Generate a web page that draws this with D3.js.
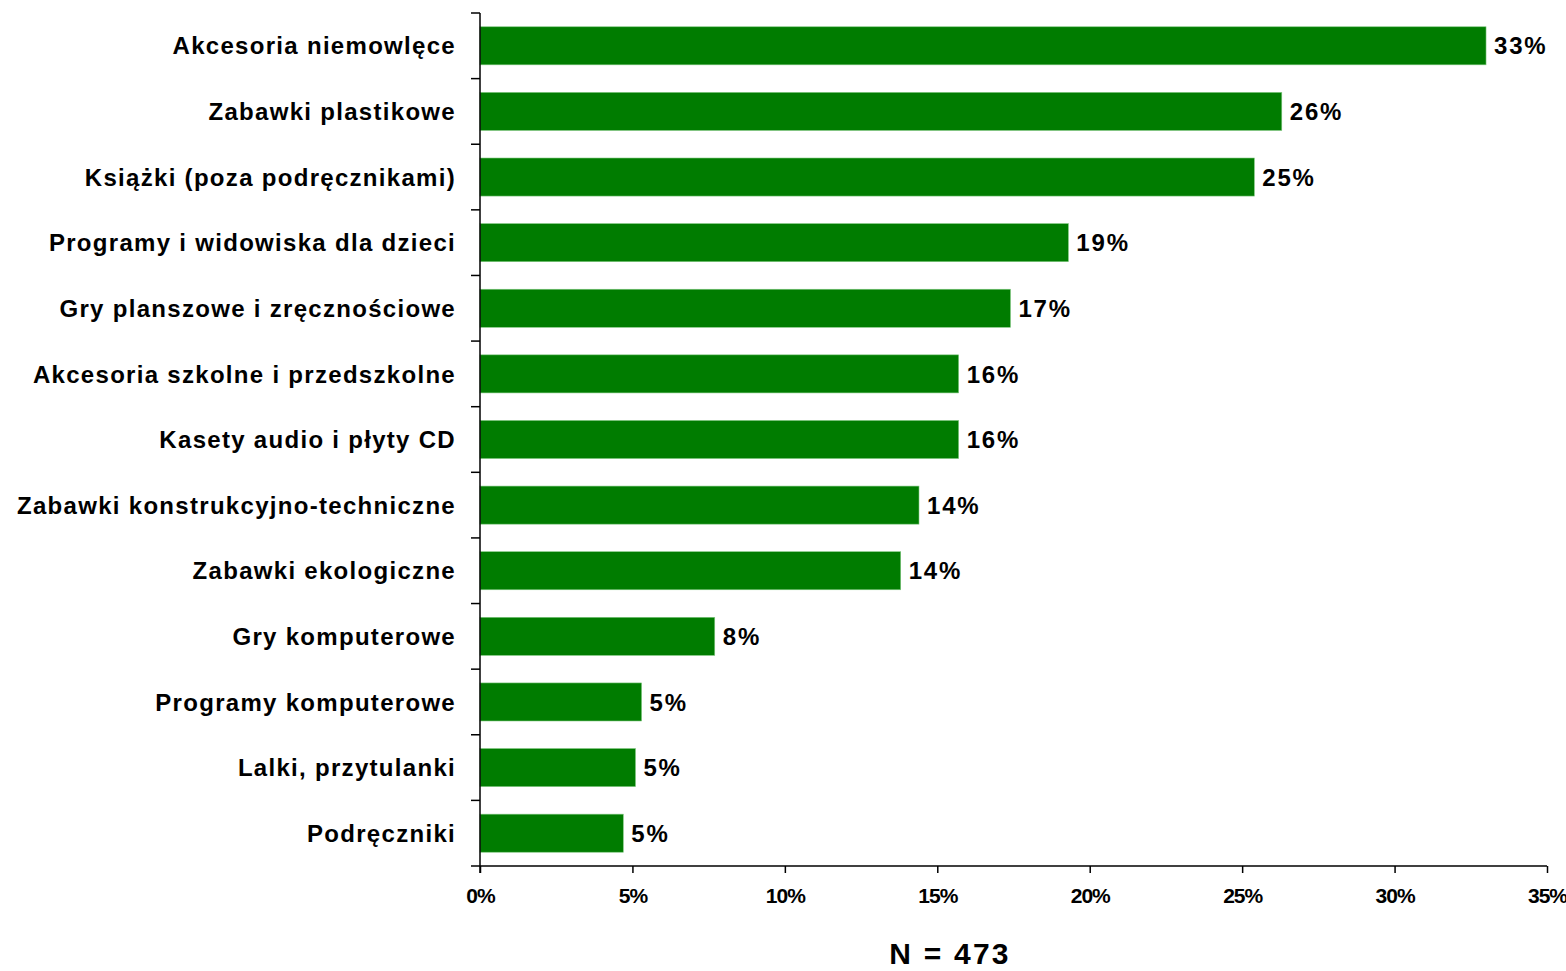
<!DOCTYPE html>
<html>
<head>
<meta charset="utf-8">
<script src="https://cdn.jsdelivr.net/npm/d3@7"></script>
<style>
  html, body { margin: 0; padding: 0; background: #fff; }
  svg { display: block; }
  .cat { font-family: "Liberation Sans", Arial, sans-serif; font-weight: bold; font-size: 24px; letter-spacing: 1.3px; fill: #000; }
  .val { font-family: "Liberation Sans", Arial, sans-serif; font-weight: bold; font-size: 24px; letter-spacing: 1.8px; fill: #000; }
  .tick text { font-family: "Liberation Sans", Arial, sans-serif; font-weight: bold; font-size: 21px; letter-spacing: -1px; fill: #000; }
  .note { font-family: "Liberation Sans", Arial, sans-serif; font-weight: bold; font-size: 30px; letter-spacing: 2.2px; fill: #000; }
</style>
</head>
<body>
<svg id="chart" width="1566" height="971"></svg>
<script>
// Categories, top to bottom
const categories = [
  "Akcesoria niemowlęce",
  "Zabawki plastikowe",
  "Książki (poza podręcznikami)",
  "Programy i widowiska dla dzieci",
  "Gry planszowe i zręcznościowe",
  "Akcesoria szkolne i przedszkolne",
  "Kasety audio i płyty CD",
  "Zabawki konstrukcyjno-techniczne",
  "Zabawki ekologiczne",
  "Gry komputerowe",
  "Programy komputerowe",
  "Lalki, przytulanki",
  "Podręczniki"
];

// Share of respondents (%)
const values = [33.0, 26.3, 25.4, 19.3, 17.4, 15.7, 15.7, 14.4, 13.8, 7.7, 5.3, 5.1, 4.7];

// X axis ticks (%)
const xTicks = [0, 5, 10, 15, 20, 25, 30, 35];

const sampleNote = "N = 473";

const svg = d3.select("#chart");
const margin = { left: 480, right: 19, top: 13, bottom: 105 };
const W = 1566, H = 971;

const x = d3.scaleLinear()
  .domain([0, 35])
  .range([margin.left, W - margin.right]);

const y = d3.scaleBand()
  .domain(categories)
  .range([margin.top, H - margin.bottom])
  .paddingInner(0.42)
  .paddingOuter(0.21);

const data = categories.map((c, i) => ({ cat: c, v: values[i] }));

// Bars
svg.append("g")
  .selectAll("rect")
  .data(data)
  .join("rect")
  .attr("x", x(0))
  .attr("y", d => y(d.cat))
  .attr("width", d => x(d.v) - x(0))
  .attr("height", y.bandwidth())
  .attr("fill", "#007c00")
  .attr("stroke", "#7fc77f")
  .attr("stroke-width", 0.6);

// Value labels, rounded to whole percent
svg.append("g")
  .selectAll("text")
  .data(data)
  .join("text")
  .attr("class", "val")
  .attr("x", d => x(d.v) + 8)
  .attr("y", d => y(d.cat) + y.bandwidth() / 2)
  .attr("dy", "0.36em")
  .text(d => Math.round(d.v) + "%");

// Y axis line with boundary ticks between categories
const yAxisG = svg.append("g");
const step = y.step();
const y0 = margin.top, y1 = H - margin.bottom;
yAxisG.append("line")
  .attr("x1", x(0)).attr("x2", x(0))
  .attr("y1", y0).attr("y2", y1 + 7)
  .attr("stroke", "#000").attr("stroke-width", 1.5);
const boundaries = d3.range(categories.length + 1).map(i => y0 + i * step);
yAxisG.selectAll("line.b")
  .data(boundaries)
  .join("line")
  .attr("class", "b")
  .attr("x1", x(0) - 9).attr("x2", x(0))
  .attr("y1", d => d).attr("y2", d => d)
  .attr("stroke", "#000").attr("stroke-width", 1.5);

// Category labels
svg.append("g")
  .selectAll("text")
  .data(categories)
  .join("text")
  .attr("class", "cat")
  .attr("x", x(0) - 24)
  .attr("y", d => y(d) + y.bandwidth() / 2)
  .attr("dy", "0.36em")
  .attr("text-anchor", "end")
  .text(d => d);

// X axis
const xAxis = d3.axisBottom(x)
  .tickValues(xTicks)
  .tickFormat(d => d + "%")
  .tickSize(7)
  .tickPadding(15);
const xg = svg.append("g")
  .attr("transform", `translate(0,${y1})`)
  .call(xAxis);
xg.select(".domain").attr("stroke", "#000").attr("stroke-width", 1.5)
  .attr("d", `M${x(0)},0H${x(35)}`);
xg.selectAll(".tick line").attr("stroke", "#000").attr("stroke-width", 1.5);

// Sample size note
svg.append("text")
  .attr("class", "note")
  .attr("x", 950)
  .attr("y", 964)
  .attr("text-anchor", "middle")
  .text(sampleNote);
</script>
</body>
</html>
